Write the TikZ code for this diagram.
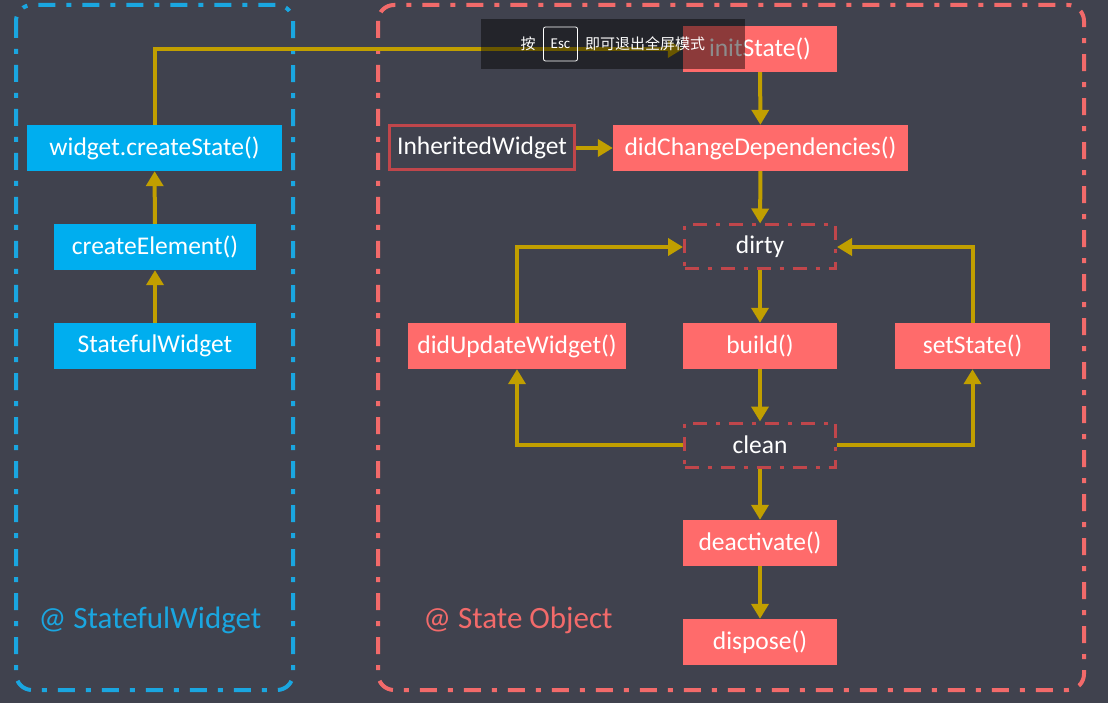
\documentclass[tikz,border=0pt]{standalone}
\usepackage{fontspec}
\setmainfont{Carlito}
\newfontfamily\cjk{Noto Sans CJK SC}
\usetikzlibrary{arrows.meta}
\definecolor{bgc}{HTML}{40424E}
\definecolor{wblue}{HTML}{00AEEF}
\definecolor{fblue}{HTML}{1AA6E0}
\definecolor{sred}{HTML}{FF6B6B}
\definecolor{fred}{HTML}{F26A6A}
\definecolor{dred}{HTML}{C0464B}
\definecolor{gold}{HTML}{C19F00}

\begin{document}
\begin{tikzpicture}[x=1pt,y=-1pt,
    every node/.style={font=\fontsize{25.5}{30}\selectfont,text=white,inner sep=0pt},
    bluebox/.style={fill=wblue,minimum height=46pt},
    redbox/.style={fill=sred,minimum height=46pt,minimum width=154pt},
    markbox/.style={draw=dred,line width=3pt,dash pattern=on 14pt off 9pt on 4pt off 9pt,minimum width=151pt,minimum height=44pt},
    frame/.style={line width=4pt,rounded corners=16pt,dash pattern=on 17pt off 11pt on 5pt off 11pt},
    flow/.style={draw=gold,line width=4pt,-{Triangle[width=17pt,length=15pt]}}]
      \fill[bgc] (0,0) rectangle (1108,703);
      \useasboundingbox (0,0) rectangle (1108,703);
      \draw[frame,fblue] (16,5) rectangle (293,690);
      \draw[frame,fred] (378,5) rectangle (1084,690);
      % left side
      \node[bluebox,minimum width=255pt] (cs) at (154.5,148) {widget.createState()};
      \node[bluebox,minimum width=202pt] (ce) at (155,247) {createElement()};
      \node[bluebox,minimum width=202pt] (sw) at (155,346) {StatefulWidget};
      \node[font=\fontsize{31}{36}\selectfont,text=fblue] (swlab) at (150,620) {@ StatefulWidget};
      % right side
      \node[redbox] (init) at (760,49) {initState()};
      \node[draw=dred,line width=3pt,minimum width=185pt,minimum height=44pt] (inh) at (482,148) {InheritedWidget};
      \node[redbox,minimum width=295pt] (dcd) at (760.5,148) {didChangeDependencies()};
      \node[markbox] (dirty) at (760,247) {dirty};
      \node[redbox,minimum width=218pt] (upd) at (517,346) {didUpdateWidget()};
      \node[redbox] (build) at (760,346) {build()};
      \node[redbox,minimum width=155pt] (set) at (972.5,346) {setState()};
      \node[markbox] (clean) at (760,445) {clean};
      \node[redbox] (deact) at (760,543) {deactivate()};
      \node[redbox] (disp) at (760,642) {dispose()};
      \node[font=\fontsize{31}{36}\selectfont,text=fred] (solab) at (518,620) {@ State Object};
      % arrows
      \draw[flow] (sw) -- (ce);
      \draw[flow] (ce) -- (cs);
      \draw[flow] (cs.north) |- (init.west);
      \draw[flow] (init) -- (dcd);
      \draw[flow] (inh) -- (dcd);
      \draw[flow] (dcd) -- (dirty);
      \draw[flow] (dirty) -- (build);
      \draw[flow] (build) -- (clean);
      \draw[flow] (clean) -- (deact);
      \draw[flow] (deact) -- (disp);
      \draw[flow] (clean.west) -| (upd.south);
      \draw[flow] (upd.north) |- (dirty.west);
      \draw[flow] (clean.east) -| (set.south);
      \draw[flow] (set.north) |- (dirty.east);
      % fullscreen hint
      \fill[black,opacity=0.45] (481,19) rectangle (745,69);
      \node[font=\cjk\fontsize{15}{18}\selectfont] (hk) at (528,44) {按};
      \node[draw=white,line width=0.8pt,rounded corners=2pt,minimum width=34pt,minimum height=34pt,font=\fontsize{15}{18}\selectfont] (esc) at (560.5,44) {Esc};
      \node[font=\cjk\fontsize{15}{18}\selectfont,anchor=west] (hint) at (585,44) {即可退出全屏模式};
    \end{tikzpicture}
\end{document}
